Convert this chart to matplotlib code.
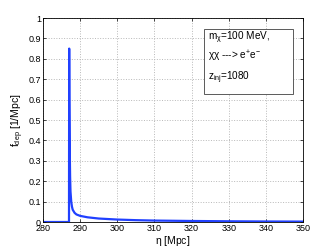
import numpy as np
import matplotlib
matplotlib.use('Agg')
import matplotlib.pyplot as plt
from matplotlib.patches import Rectangle

plt.rcParams['font.family'] = ['Liberation Sans', 'DejaVu Sans']
plt.rcParams['mathtext.fontset'] = 'custom'
plt.rcParams['mathtext.rm'] = 'Liberation Sans'
plt.rcParams['mathtext.it'] = 'Liberation Sans'

# conformal time [Mpc] and deposition rate [1/Mpc]
eta = [280, 287.0, 287.05, 287.1, 287.2, 287.3, 287.4, 287.6, 287.8, 288.0, 288.5,
       289, 290, 292, 295, 300, 305, 310, 320, 330, 340, 350]
f_dep = [0, 0, 0.85, 0.6, 0.35, 0.22, 0.15, 0.1, 0.075, 0.06, 0.045,
         0.037, 0.03, 0.023, 0.017, 0.012, 0.009, 0.007, 0.005, 0.0035, 0.0025, 0.002]

xticks = np.arange(280, 351, 10)
yticks = np.arange(0, 1.01, 0.1)
ytick_labels = ['0', '0.1', '0.2', '0.3', '0.4', '0.5', '0.6', '0.7', '0.8', '0.9', '1']

info_lines = ['m$_\\chi$=100 MeV,', '$\\chi\\chi$ ---> e$^{+}$e$^{-}$', 'z$_{\\rm inj}$=1080']
info_y = [0.902, 0.814, 0.706]

fig = plt.figure(figsize=(3.32, 2.5), dpi=100)
ax = fig.add_axes([43 / 332, 28 / 250, 260 / 332, 204 / 250])

ax.plot(eta, f_dep, color='#2040ff', lw=1.6)
ax.set_xlim(280, 350)
ax.set_ylim(0, 1)
ax.set_xticks(xticks)
ax.set_yticks(yticks)
ax.set_yticklabels(ytick_labels)
ax.grid(True, linestyle=':', color='#b8b8b8', lw=0.7)
ax.tick_params(direction='in', top=True, right=True, labelsize=6.5, length=2.5, width=0.5, pad=1.5)
for s in ax.spines.values():
    s.set_linewidth(0.6)

ax.set_xlabel(r'$\eta$ [Mpc]', fontsize=7.5, labelpad=1)
ax.set_ylabel(r'f$_{\rm dep}$ [1/Mpc]', fontsize=7.5, labelpad=2)

# annotation box
ax.add_patch(Rectangle((0.619, 0.627), 0.343, 0.319, transform=ax.transAxes,
                       fc='white', ec='#404040', lw=0.6, zorder=5))
for line, y in zip(info_lines, info_y):
    ax.text(0.635, y, line, transform=ax.transAxes, fontsize=7.2, va='center', ha='left', zorder=6)

fig.savefig('out.png', dpi=100)
